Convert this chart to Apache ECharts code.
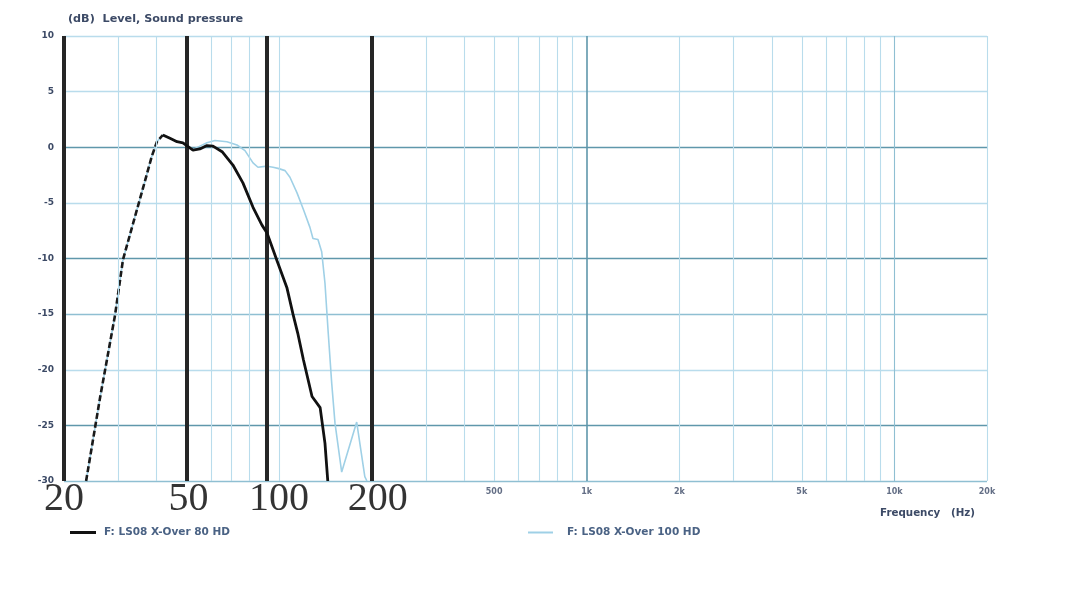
<!DOCTYPE html>
<html><head><meta charset="utf-8">
<script src="https://cdn.jsdelivr.net/npm/echarts@6/dist/echarts.min.js"></script>
<style>html,body{margin:0;padding:0;background:#fff}#c{width:1081px;height:609px}</style>
</head><body><div id="c"></div>
<script>
// ---- data ----
const name80 = 'F: LS08 X-Over 80 HD';
const name100 = 'F: LS08 X-Over 100 HD';
// shared high-pass rise (Hz, dB)
const riseFreq = [23.6, 26.2, 29.3, 31.1, 33.5, 36.1, 38.6, 40.1, 41.9];
const riseLevel = [-30, -22.5, -15.1, -10.1, -6.9, -3.7, -0.8, 0.5, 1.1];
// 80 Hz crossover curve (after peak)
const freq80 = [41.9, 44.2, 46.6, 48.7, 52.5, 55.3, 58.3, 61, 65.3, 70.8, 76.3, 82.3, 88, 91.4, 98.5, 106, 111, 115, 120, 128, 136, 141, 144];
const level80 = [1.1, 0.8, 0.5, 0.4, -0.25, -0.15, 0.15, 0.1, -0.4, -1.6, -3.2, -5.4, -7.0, -7.7, -10.2, -12.6, -15.0, -16.7, -19.1, -22.4, -23.4, -26.6, -30];
// 100 Hz crossover curve (after peak)
const freq100 = [41.9, 44.2, 46.6, 48.7, 52.5, 55.3, 58.3, 61.9, 67.7, 73, 77.5, 82.3, 85.4, 91.4, 95.6, 99.2, 104.6, 108.5, 114.4, 120, 126, 128.9, 133.8, 137.6, 141, 144.5, 148.3, 152, 159.8, 178.8, 190, 193];
const level100 = [1.1, 0.8, 0.5, 0.4, -0.2, 0.1, 0.4, 0.6, 0.5, 0.2, -0.3, -1.4, -1.8, -1.7, -1.8, -1.9, -2.1, -2.7, -4.1, -5.6, -7.2, -8.2, -8.3, -9.4, -12.2, -16.7, -21.2, -24.8, -29.2, -24.7, -29.6, -30];
// grid / ticks
const gridFreqs = [30, 40, 50, 60, 70, 80, 90, 100, 200, 300, 400, 500, 600, 700, 800, 900, 1000, 2000, 3000, 4000, 5000, 6000, 7000, 8000, 9000, 10000, 20000];
const darkGridFreqs = [1000];
const xTickFreqs = [500, 1000, 2000, 5000, 10000, 20000];
const xTickLabels = ['500', '1k', '2k', '5k', '10k', '20k'];
// overlaid annotation
const overlayLineFreqs = [20, 50, 91.4, 200];
const overlayLabelFreqs = [20, 50, 100, 200];
const overlayLabels = ['20', '50', '100', '200'];

const pairs = (f, v) => f.map((x, i) => [x, v[i]]);
const light = '#b9dcec', dark = '#5f97ab', mid = '#8fbfd2';
const txt = '#3c4a66';

const chart = echarts.init(document.getElementById('c'), null, {renderer: 'canvas'});
chart.setOption({
  animation: false,
  backgroundColor: '#fff',
  title: [
    {text: '(dB)  Level, Sound pressure', left: 63, top: 9, textStyle: {fontFamily: 'DejaVu Sans', fontSize: 11.2, fontWeight: 'bold', color: txt}},
    {text: 'Frequency   (Hz)', left: 875, top: 503, textStyle: {fontFamily: 'DejaVu Sans', fontSize: 10.3, fontWeight: 'bold', color: txt}}
  ],
  grid: {left: 64, right: 94, top: 36, bottom: 128, show: false},
  legend: [
    {data: [{name: name80, icon: 'rect'}], left: 70, top: 527, padding: 0, itemWidth: 26, itemHeight: 3,
     textStyle: {fontFamily: 'DejaVu Sans', fontSize: 10.5, fontWeight: 'bold', color: '#4a6284', padding: [0, 0, 0, 3]}},
    {data: [{name: name100, icon: 'rect'}], left: 528, top: 527, padding: 0, itemWidth: 25, itemHeight: 2,
     textStyle: {fontFamily: 'DejaVu Sans', fontSize: 10.5, fontWeight: 'bold', color: '#4a6284', padding: [0, 0, 0, 9]}}
  ],
  xAxis: {type: 'log', logBase: 10, min: 20, max: 20000,
    axisLine: {show: false}, axisTick: {show: false}, axisLabel: {show: false}, splitLine: {show: false}},
  yAxis: {type: 'value', min: -30, max: 10, interval: 5,
    axisLine: {show: false}, axisTick: {show: false},
    axisLabel: {fontFamily: 'DejaVu Sans', fontSize: 9, fontWeight: 'bold', color: txt, margin: 10},
    splitLine: {show: true, lineStyle: {width: 1.3, color: [mid, dark, light, mid, dark, light, dark, light, light]}}},
  series: [
    {name: 'grid', type: 'line', data: [], silent: true, z: 1,
     markLine: {silent: true, symbol: 'none', label: {show: false}, animation: false,
       data: gridFreqs.map(f => ({xAxis: f, lineStyle: {color: darkGridFreqs.includes(f) ? dark : (f === 10000 ? mid : light), width: darkGridFreqs.includes(f) ? 1.6 : 1.1, type: 'solid'}}))}},
    {name: name100, type: 'line', color: '#9fd0e6', showSymbol: false, z: 3,
     lineStyle: {width: 1.6, color: '#9fd0e6'},
     data: pairs(riseFreq, riseLevel).concat(pairs(freq100, level100).slice(1))},
    {name: 'rise', type: 'line', showSymbol: false, z: 4,
     lineStyle: {width: 2.6, color: '#1a1a1a', type: [6, 3]},
     data: pairs(riseFreq, riseLevel)},
    {name: name80, type: 'line', color: '#111', showSymbol: false, z: 5,
     lineStyle: {width: 2.8, color: '#111'},
     data: pairs(freq80, level80)},
    {name: 'ticks', type: 'scatter', symbolSize: 0, clip: false, silent: true, z: 6,
     data: xTickFreqs.map(f => [f, -30]),
     label: {show: true, position: 'bottom', distance: 7, fontFamily: 'DejaVu Sans', fontSize: 8, fontWeight: 'bold', color: txt,
       formatter: p => xTickLabels[p.dataIndex]}},
    {name: 'overlay', type: 'scatter', symbolSize: 0, clip: false, silent: true, z: 10,
     data: overlayLabelFreqs.map(f => ({value: [f, -30], label: {offset: [f === 200 ? 6 : (f === 50 ? 2 : 0), -2]}})),
     label: {show: true, position: 'bottom', distance: 0, fontFamily: 'Liberation Serif', fontSize: 40, color: '#000',
       formatter: p => overlayLabels[p.dataIndex]},
     markLine: {silent: true, symbol: 'none', label: {show: false}, animation: false,
       lineStyle: {color: '#262626', width: 4, type: 'solid'},
       data: overlayLineFreqs.map(f => ({xAxis: f}))}}
  ]
});
</script></body></html>
